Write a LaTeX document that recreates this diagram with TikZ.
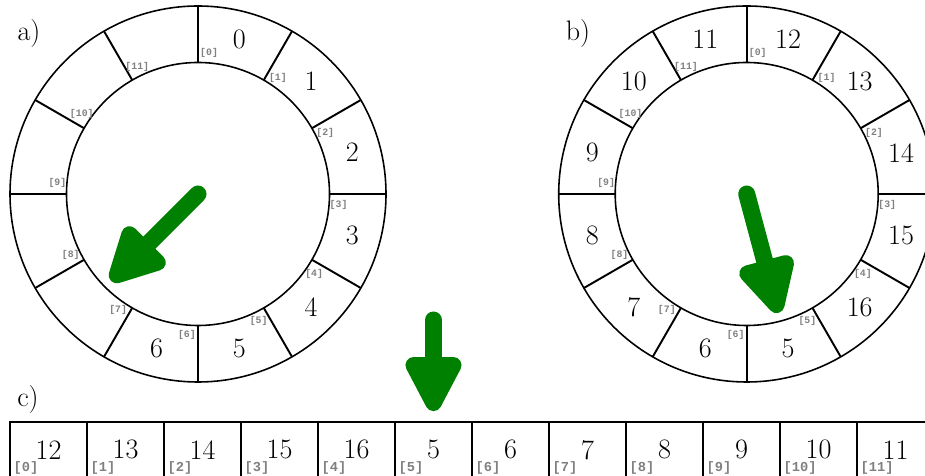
\documentclass[tikz,border=0pt]{standalone}
\usepackage{fontspec}
\usepackage{xcolor}
\usepackage{tikz}
\usetikzlibrary{arrows.meta,positioning,calc}
\newfontfamily\indexfont{Liberation Mono}
\definecolor{pointergreen}{RGB}{0, 128, 0}
\definecolor{indexgray}{RGB}{128, 128, 128}

\begin{document}
\begin{tikzpicture}[x=0.02cm, y=0.02cm,
    num/.style={font=\fontsize{16}{19}\selectfont, inner sep=0pt},
    ringidx/.style={font=\fontsize{5.6}{7}\selectfont\indexfont\bfseries, text=indexgray, inner sep=0pt},
    cellidx/.style={font=\fontsize{7.8}{10}\selectfont\indexfont\bfseries, text=indexgray, inner sep=2.5pt},
    cell/.style={draw, line width=1.2pt, minimum width=1.54cm, minimum height=1.126cm, inner sep=0pt, font=\fontsize{16}{19}\selectfont},
    ringline/.style={line width=0.9pt},
    pointer/.style={-{Triangle[round, length=37pt, width=35pt]}, line width=0.34cm, line cap=round, pointergreen}]
    \useasboundingbox (0,0) rectangle (925,476);
    % Ring a)
    \begin{scope}[shift={(198,282)}]
        \coordinate (acenter) at (0,0);
        \draw[ringline] (acenter) circle (188) (acenter) circle (131.5);
        \foreach \k in {0,...,11} {
            \draw[line width=1.1pt] ({90-30*\k}:131.5) -- ({90-30*\k}:188);
            \node[ringidx] (ai\k) at ({85.5-30*\k}:141) {[\k]};
        }
        \foreach \v in {0,...,6}
            \node[num] (a\v) at ({75-30*\v}:159.75) {\v};
        \coordinate (atip) at (225:123);
    \end{scope}
    \node[num] (lbla) at (29,443) {a)};
    % Ring b)
    \begin{scope}[shift={(746.7,282)}]
        \coordinate (bcenter) at (0,0);
        \draw[ringline] (bcenter) circle (188) (bcenter) circle (131.5);
        \foreach \k/\v in {0/12,1/13,2/14,3/15,4/16,5/5,6/6,7/7,8/8,9/9,10/10,11/11} {
            \draw[line width=1.1pt] ({90-30*\k}:131.5) -- ({90-30*\k}:188);
            \node[ringidx] (bi\k) at ({85.5-30*\k}:141) {[\k]};
            \node[num] (b\k) at ({75-30*\k}:159.75) {\v};
        }
        \coordinate (btip) at (-75:123);
    \end{scope}
    \node[num] (lblb) at (578,443) {b)};
    % Array c)
    \node[num] (lblc) at (28,77) {c)};
    \foreach \k/\v in {0/12,1/13,2/14,3/15,4/16,5/5,6/6,7/7,8/8,9/9,10/10,11/11} {
        \node[cell] (c\k) at ({48.5+77*\k},26.15) {\v};
        \node[cellidx, anchor=south west] (ci\k) at (c\k.south west) {[\k]};
    }
    \coordinate (ctail) at (433.5,156);
    % pointers
    \draw[pointer] (acenter) -- (atip);
    \draw[pointer] (bcenter) -- (btip);
    \draw[pointer, shorten >=0.19cm] (ctail) -- (c5.north);
\end{tikzpicture}
\end{document}
